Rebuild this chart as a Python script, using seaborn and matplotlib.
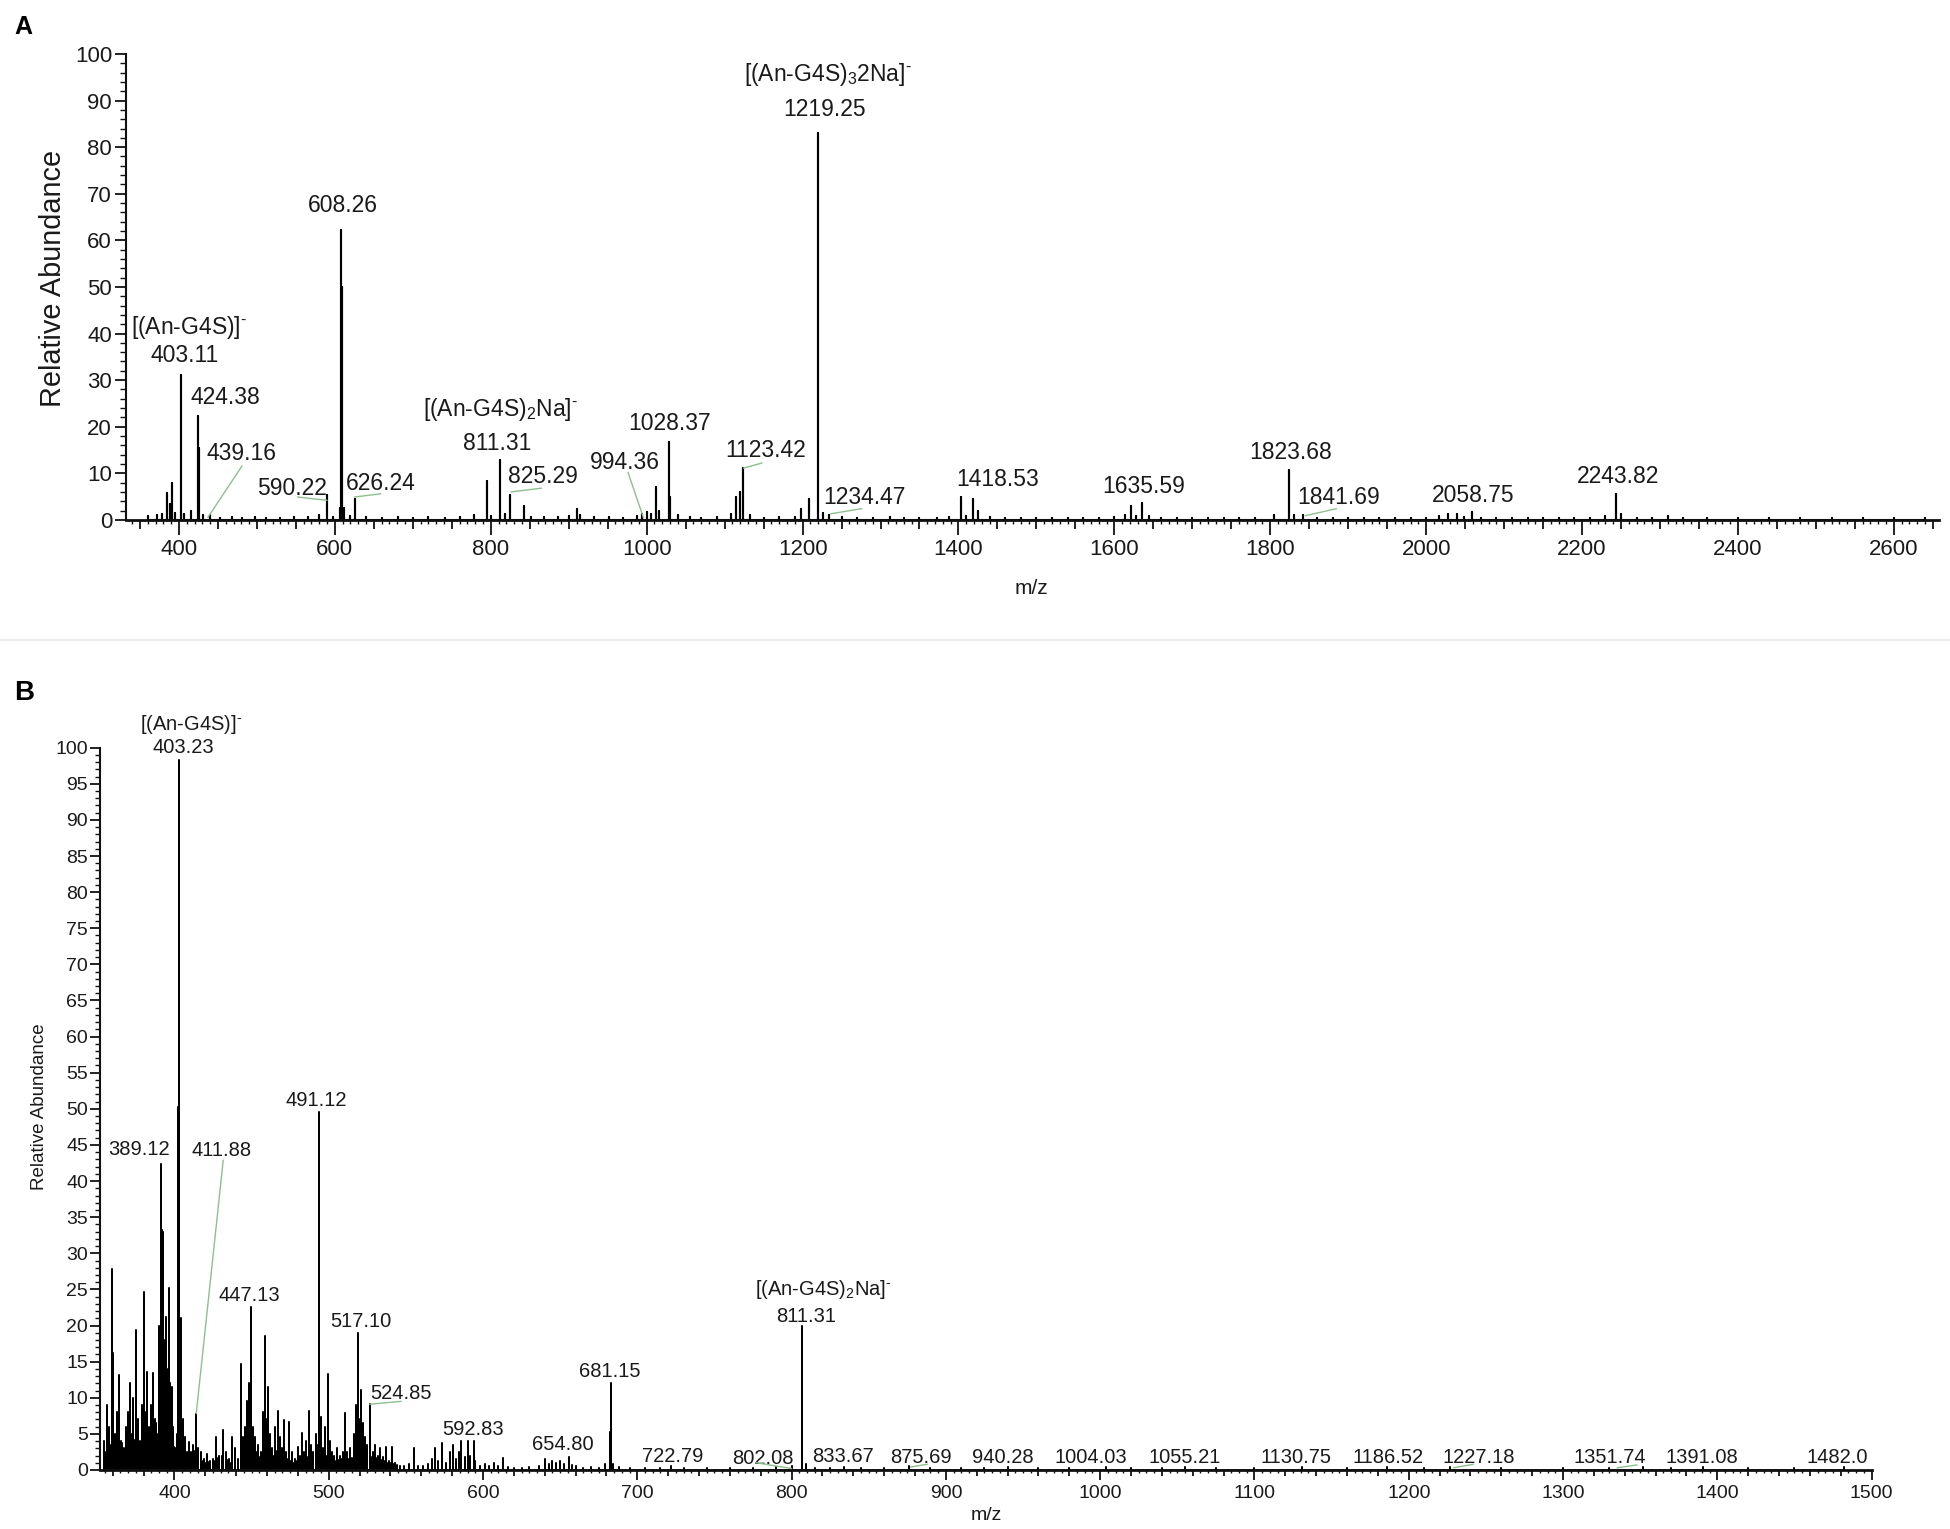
import matplotlib
matplotlib.use("Agg")
import matplotlib.pyplot as plt
import matplotlib.ticker as mticker
from matplotlib import font_manager
from matplotlib.lines import Line2D
import pandas as pd
import seaborn as sns

# ---- panel A spectrum (m/z, relative abundance) ----
a_mz = [360, 372, 378, 384, 388, 391, 395, 403.11, 406, 416, 424.38, 425.4, 431, 439.16,
        452, 468, 481, 497, 512, 530, 547, 566, 579, 590.22, 598, 606, 608.26, 609.3, 612,
        619, 626.24, 640, 660, 681, 700, 720, 741, 760, 779, 795.2, 800, 811.31, 818,
        825.29, 843, 852, 868, 886, 900, 910, 914, 932, 952, 970, 988, 994.36, 1000, 1005,
        1012, 1016, 1028.37, 1030, 1040, 1055, 1070, 1090, 1108, 1114.6, 1120, 1123.42,
        1132, 1150, 1170, 1190, 1198.4, 1208, 1219.25, 1220.3, 1226, 1234.47, 1250, 1270,
        1290, 1312, 1330, 1350, 1372, 1388, 1403.6, 1410, 1418.53, 1425, 1440, 1460, 1480,
        1500, 1520, 1540, 1560, 1580, 1600, 1614, 1621.5, 1628, 1635.59, 1645, 1660, 1680,
        1700, 1720, 1740, 1760, 1780, 1805, 1823.68, 1830, 1841.69, 1860, 1880, 1900, 1920,
        1940, 1960, 1980, 2000, 2016, 2028, 2040, 2048, 2058.75, 2070, 2090, 2110, 2130,
        2150, 2170, 2190, 2210, 2230, 2243.82, 2250, 2270, 2290, 2310, 2330, 2360, 2400,
        2440, 2480, 2520, 2560, 2600, 2640]
a_ab = [0.8, 1.0, 1.2, 5.8, 3.5, 8.0, 1.5, 31.1, 1.2, 2.0, 22.4, 15.5, 1.0, 1.0,
        0.5, 0.6, 0.5, 0.6, 0.5, 0.5, 0.6, 0.7, 1.0, 5.3, 0.6, 2.5, 62.2, 50.0, 2.5,
        0.8, 4.4, 0.6, 0.5, 0.7, 0.5, 0.6, 0.5, 0.6, 1.0, 8.4, 0.8, 12.9, 1.2,
        5.3, 2.9, 0.6, 0.7, 0.6, 0.8, 2.4, 1.0, 0.6, 0.7, 0.5, 0.8, 1.2, 1.6, 1.2,
        7.1, 2.0, 16.7, 5.0, 1.0, 0.6, 0.5, 0.6, 1.2, 4.9, 6.0, 11.1,
        1.0, 0.5, 0.6, 0.7, 2.4, 4.4, 83.1, 68.9, 1.5, 1.0, 0.6, 0.5,
        0.5, 0.6, 0.5, 0.5, 0.5, 0.6, 4.9, 0.8, 4.4, 1.8, 0.6, 0.5, 0.4,
        0.5, 0.4, 0.5, 0.4, 0.5, 0.6, 1.0, 2.9, 0.8, 3.7, 0.8, 0.5, 0.4,
        0.5, 0.4, 0.4, 0.5, 0.5, 1.0, 10.7, 1.0, 1.0, 0.5, 0.4, 0.4, 0.4,
        0.5, 0.4, 0.4, 0.5, 0.9, 1.3, 1.3, 0.7, 1.6, 0.5, 0.4, 0.4, 0.4,
        0.4, 0.4, 0.4, 0.5, 0.8, 5.6, 1.2, 0.4, 0.4, 0.8, 0.3, 0.3, 0.3,
        0.3, 0.3, 0.3, 0.3, 0.3, 0.3]
assert len(a_mz) == len(a_ab)

MINUS = r"$^{\text{-}}$"
a_labels = ["[(An-G4S)]" + MINUS, "403.11", "424.38", "439.16", "590.22", "608.26", "626.24",
            "[(An-G4S)$_2$Na]" + MINUS, "811.31", "825.29", "994.36", "1028.37", "1123.42",
            "[(An-G4S)$_3$2Na]" + MINUS, "1219.25", "1234.47", "1418.53", "1635.59",
            "1823.68", "1841.69", "2058.75", "2243.82"]
a_lab_x = [413.6, 407.2, 459, 479.8, 545.3, 610.8, 658.7, 812.8, 808.8, 866.3, 972.5,
           1030, 1152, 1232, 1228, 1280, 1450, 1637.4, 1826.6, 1887.4, 2060.5, 2246.6]
a_lab_y = [41.3, 35.3, 26.2, 14.2, 6.7, 67.4, 7.8, 23.7, 16.4, 9.3, 12.4, 20.7, 14.8,
           95.6, 88, 4.9, 8.6, 7.1, 14.4, 4.9, 5.3, 9.3]
# green leader lines: (x0, y0, x1, y1)
a_leaders = [(437, 0.5, 481, 11.6), (552, 4.9, 590, 4.2), (625, 4.9, 659, 5.6),
             (826, 6.0, 865, 6.8), (976, 10.2, 996, 0.4), (1124, 11.1, 1148, 12.2),
             (1236, 1.3, 1276, 2.4), (1845, 0.9, 1885, 2.4)]

# ---- panel B spectrum ----
b_mz = [354.5, 356, 357.5, 359.4, 360.2, 361.5, 362.5, 363.9, 365.5, 367, 368.5, 369.8,
        371.3, 372.2, 373.2, 375.1, 376.2, 377.5, 378.8, 380.3, 381.3, 382.5, 383.6, 384.8,
        386.2, 387.4, 388.8, 389.8, 391.1, 391.6, 392.6, 393.5, 394.4, 395.3, 396.3, 397.2,
        398.1, 399.2, 400.3, 401.4, 402.4, 403.0, 404.1, 405.2, 406.5, 408, 409.3, 410.5,
        412, 414.1, 415.5, 417, 419, 421, 423, 425, 427.2, 429, 431.6, 433.5, 435.5, 437.5,
        439.5, 441, 442.8, 444.2, 445.5, 447.3, 448.5, 449.5, 449.9, 451, 452.5, 454, 456,
        457.5, 458.8, 459.8, 460.7, 462, 463.5, 465.2, 467, 468.2, 469.5, 470.7, 472.5,
        474.4, 476, 478, 480, 481.5, 482.6, 484, 485.5, 487.4, 488.6, 490, 491.5, 493.4,
        493.8, 494.9, 496.5, 497.8, 499.3, 500.5, 502, 503.5, 505.5, 507.5, 509, 510.5,
        512, 514, 516.3, 517.5, 518.7, 519, 520, 520.9, 522, 523.5, 525, 526.9, 528.5, 530,
        532, 533.5, 535.2, 537, 539, 541, 543, 546, 549, 552, 555, 558, 561, 564, 567, 569,
        571, 573.5, 576, 578.5, 580.5, 582.5, 584.5, 586, 588, 590, 591.5, 593.9, 595, 598,
        601, 604, 607, 610, 613, 616, 620, 625, 630, 636, 640, 642.5, 645, 647.4, 650,
        652.5, 655.5, 657.5, 660, 665, 670, 675, 679, 682.4, 682.8, 684.5, 688, 695, 705,
        715, 722, 730, 745, 760, 775, 790, 800, 806.5, 806.7, 809, 815, 825, 834, 845, 860,
        876, 890, 910, 925, 940, 960, 980, 1004, 1020, 1040, 1055, 1075, 1100, 1131, 1160,
        1186, 1210, 1227, 1260, 1300, 1330, 1352, 1370, 1391, 1420, 1450, 1482]
b_ab = [4, 9, 6, 27.8, 16.2, 5, 8, 13.2, 4, 3, 6, 8,
        12, 5, 9.9, 19.4, 7, 4, 9, 24.6, 8, 13.6, 6, 9,
        13.4, 7, 5, 20, 42.4, 33.2, 33, 18, 21.2, 14, 25.2, 12,
        11.5, 6, 3, 5, 50.3, 98.3, 21, 7, 4.6, 2.5, 3.9, 2.5,
        3.5, 7.8, 3.0, 2.5, 1.5, 2.2, 1.2, 1.5, 4.6, 2, 5.5, 2.5, 1.5, 4.5,
        3.0, 1.5, 14.7, 4.5, 6, 9.5, 12, 22.6, 15.7, 6, 4.5, 3.5, 2.5,
        8, 18.5, 7, 11.5, 5, 3, 6, 8.1, 4.5, 3, 6.9, 2.5,
        6.7, 2.5, 1.5, 3.2, 2, 5.1, 2.5, 4, 8.1, 3.5, 2.5, 5, 49.6,
        30.9, 7.4, 3, 6, 13.3, 4, 2.5, 2, 3, 2, 2.5, 7.9,
        2.5, 3, 5, 9, 18.9, 9.7, 7, 11.1, 6.5, 4.5, 3.5, 9.1, 2.5, 3.4,
        2, 3.0, 1.8, 3.2, 1.2, 3.2, 1.0, 0.6, 0.5, 0.8, 3.0, 0.6, 0.5, 0.8, 1.5, 3.0,
        1.2, 3.7, 1.0, 2.5, 3.5, 1.5, 2.5, 4.0, 1.8, 4.0, 2.0, 4.0, 1.2, 0.6,
        0.8, 0.6, 1.0, 0.5, 1.7, 0.4, 0.3, 0.3, 0.4, 0.5, 1.5, 0.8, 1.3, 1.0, 1.3,
        0.8, 1.8, 0.7, 0.5, 0.3, 0.4, 0.3, 0.8, 5.3, 12.0, 0.8, 0.4, 0.3, 0.3,
        0.3, 0.5, 0.3, 0.3, 0.3, 0.3, 0.4, 0.5, 10.2, 19.9, 0.8, 0.3, 0.3, 0.4, 0.3, 0.3,
        0.5, 0.3, 0.3, 0.3, 0.4, 0.3, 0.3, 0.4, 0.3, 0.3, 0.4, 0.3, 0.3, 0.4, 0.3,
        0.4, 0.3, 0.4, 0.3, 0.3, 0.3, 0.4, 0.3, 0.4, 0.3, 0.3, 0.4]
# low-level clutter between the main lines of B
b_fill_mz = [355.2, 358.2, 360.8, 363, 364.5, 366.2, 367.8, 370.5, 374.2, 376.8,
             379.5, 382, 385.5, 387.9, 390.5, 392.1, 393.9, 395.8, 397.7, 399.8,
             400.8, 404.6, 405.8, 407.2, 411.2, 413, 418, 420, 422, 426,
             428, 430.5, 434.5, 436.5, 443.5, 446.2, 450.5, 451.8, 453.2, 455,
             457, 461.3, 464, 466, 471.5, 473.5, 475, 477, 479, 483.3,
             486.5, 489.3, 492.3, 495.7, 498.5, 501.3, 504.5, 506.5, 508.3, 511.3,
             513, 515, 517, 521.5, 524, 527.7, 529.3, 531, 534.5, 536,
             538, 540, 542, 544]
b_fill_ab = [2.5, 3.5, 2.8, 4.5, 2.2, 3.8, 2.5, 3.2, 4.2, 3.5,
             4.8, 5.5, 4.0, 6.5, 8.0, 9.5, 7.5, 6.0, 5.5, 3.2,
             2.0, 3.5, 2.8, 2.2, 1.8, 2.6, 1.2, 0.9, 1.1, 1.3,
             1.6, 2.0, 1.4, 1.0, 2.8, 3.5, 4.2, 3.0, 2.5, 1.8,
             2.2, 3.6, 2.0, 2.6, 1.8, 1.5, 1.3, 1.0, 1.2, 2.0,
             1.8, 1.5, 3.5, 2.5, 2.0, 1.6, 1.2, 1.4, 1.5, 1.8,
             1.5, 1.7, 4.5, 5.0, 3.0, 1.8, 1.5, 1.6, 1.4, 1.2,
             1.0, 0.9, 0.8, 0.7]
assert len(b_mz) == len(b_ab) and len(b_fill_mz) == len(b_fill_ab)

b_labels = ["[(An-G4S)]" + MINUS, "403.23", "389.12", "411.88", "447.13", "491.12", "517.10",
            "524.85", "592.83", "654.80", "681.15", "722.79", "802.08",
            "[(An-G4S)$_2$Na]" + MINUS, "811.31", "833.67", "875.69", "940.28", "1004.03",
            "1055.21", "1130.75", "1186.52", "1227.18", "1351.74", "1391.08", "1482.0"]
b_lab_x = [411, 405.8, 376.9, 430.5, 448.4, 492, 520.9, 547, 593.5, 651.9, 682, 722.6,
           781.4, 820.5, 809.3, 833.5, 883.6, 936.7, 994.2, 1055, 1127.1, 1186.8, 1245.6,
           1330.6, 1390.3, 1478]
b_lab_y = [103.2, 100, 44.4, 44.2, 24.2, 51.2, 20.5, 10.6, 5.6, 3.5, 13.6, 1.9, 1.6,
           25, 21.3, 1.8, 1.7, 1.7, 1.7, 1.7, 1.7, 1.7, 1.7, 1.7, 1.7, 1.7]
b_leaders = [(414.1, 7.8, 431.6, 42.9), (526.5, 9.1, 547, 9.5), (777, 1.0, 800, 0.2),
             (877, 0.4, 888, 0.8), (1229, 0.3, 1242, 0.8), (1335, 0.3, 1348, 0.7)]

# ---- style ----
sns.set_theme(style="ticks")
names = {f.name for f in font_manager.fontManager.ttflist}
NARROW = "Liberation Sans Narrow" in names
FA = "Liberation Sans Narrow" if NARROW else "Liberation Sans"
FB = "Liberation Sans"
sa = 1.12 if NARROW else 1.0
plt.rcParams["font.family"] = [FB, "DejaVu Sans"]
plt.rcParams["mathtext.fontset"] = "custom"
plt.rcParams["mathtext.rm"] = FB
plt.rcParams["mathtext.it"] = FB
TXT = "#1a1a1a"
GREEN = "#8cc08c"


def stick_profile(mz, ab):
    xs, ys = [], []
    for m, h in sorted(zip(mz, ab)):
        xs += [m, m, m]
        ys += [0, h, 0]
    return pd.DataFrame({"mz": xs, "ab": ys})


def setup_axes(ax, xlim, xbig, xmid, xsmall, ystep, ysmall, fam, size, xlen, ylen):
    ax.set_xlim(*xlim)
    ax.set_ylim(0, 100)
    sns.despine(ax=ax)
    for s in ["left", "bottom"]:
        ax.spines[s].set_color("#111111")
    ax.spines["left"].set_linewidth(1.5)
    ax.spines["bottom"].set_linewidth(2.0)
    ax.set_xlabel("")
    ax.set_ylabel("")
    ax.xaxis.set_major_locator(mticker.MultipleLocator(xmid))
    ax.xaxis.set_minor_locator(mticker.MultipleLocator(xsmall))
    ax.xaxis.set_major_formatter(mticker.FuncFormatter(
        lambda v, p: f"{v:.0f}" if abs(v / xbig - round(v / xbig)) < 1e-6 else ""))
    ax.yaxis.set_major_locator(mticker.MultipleLocator(ystep))
    ax.yaxis.set_minor_locator(mticker.MultipleLocator(ysmall))
    ax.tick_params(axis="x", which="major", length=xlen, width=1.3, pad=3,
                   labelsize=size, labelcolor=TXT, color="#111111")
    ax.tick_params(axis="x", which="minor", length=xlen * 0.3, width=1.0, color="#111111")
    ax.tick_params(axis="y", which="major", length=ylen, width=1.3, pad=2,
                   labelsize=size, labelcolor=TXT, color="#111111")
    ax.tick_params(axis="y", which="minor", length=ylen * 0.55, width=1.0, color="#111111")
    for lab in ax.get_xticklabels() + ax.get_yticklabels():
        lab.set_family(fam)
    locs = ax.xaxis.get_majorticklocs()
    for t, v in zip(ax.xaxis.get_major_ticks(len(locs)), locs):
        if abs(v / xbig - round(v / xbig)) > 1e-6:
            t.tick1line.set_markersize(xlen * 0.62)


def add_labels(ax, texts, xs, ys, leaders, fam, size):
    for s, x, y in zip(texts, xs, ys):
        ax.text(x, y, s, ha="center", va="center", fontsize=size, family=fam,
                color=TXT, clip_on=False)
    for x0, y0, x1, y1 in leaders:
        ax.annotate("", xy=(x0, y0), xytext=(x1, y1),
                    arrowprops=dict(arrowstyle="-", color=GREEN, lw=1.0,
                                    shrinkA=0, shrinkB=0))


fig = plt.figure(figsize=(19.5, 15.29), dpi=100)
ax_a = fig.add_axes([0.0646, 0.660, 0.9298, 0.3047])
ax_b = fig.add_axes([0.0515, 0.0386, 0.9083, 0.4724])

sns.lineplot(data=stick_profile(a_mz, a_ab), x="mz", y="ab", sort=False, estimator=None,
             color="black", lw=1.5, ax=ax_a)
sns.lineplot(data=stick_profile(b_mz + b_fill_mz, b_ab + b_fill_ab), x="mz", y="ab",
             sort=False, estimator=None, color="black", lw=1.1, ax=ax_b)

setup_axes(ax_a, (332, 2658), 200, 50, 10, 10, 2, FA, 16 * sa, 10.5, 8)
setup_axes(ax_b, (352, 1500), 100, 20, 5, 5, 1, FB, 14, 7.5, 7)

add_labels(ax_a, a_labels, a_lab_x, a_lab_y, a_leaders, FA, 16.5 * sa)
add_labels(ax_b, b_labels, b_lab_x, b_lab_y, b_leaders, FB, 14.5)

fig.text(0.0272, 0.818, "Relative Abundance", rotation=90, ha="center", va="center",
         fontsize=20.8 * sa, family=FA, color=TXT)
fig.text(0.529, 0.615, "m/z", ha="center", va="center", fontsize=15 * sa, family=FA,
         color=TXT)
fig.text(0.0205, 0.276, "Relative Abundance", rotation=90, ha="center", va="center",
         fontsize=13.5, family=FB, color=TXT)
fig.text(0.506, 0.009, "m/z", ha="center", va="center", fontsize=14, family=FB, color=TXT)

fig.text(0.0121, 0.9823, "A", ha="center", va="center", fontsize=18, fontweight="bold",
         family=FB, color="black")
fig.text(0.0126, 0.547, "B", ha="center", va="center", fontsize=20, fontweight="bold",
         family=FB, color="black")

fig.add_artist(Line2D([0, 1], [0.5814, 0.5814], transform=fig.transFigure,
                      color="#ececec", lw=1.5))

fig.savefig("out.png", dpi=100)
